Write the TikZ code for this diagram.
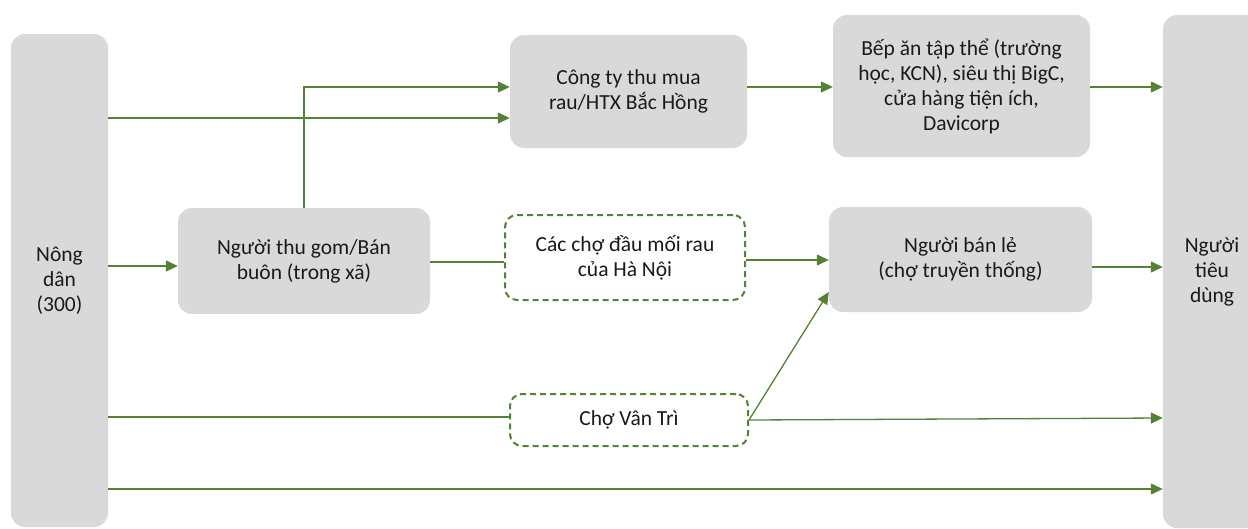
\documentclass[tikz,border=0pt]{standalone}
\usepackage{fontspec}
\setmainfont{Carlito}
\usetikzlibrary{arrows.meta}
\definecolor{flow}{HTML}{548235}
\definecolor{boxgray}{HTML}{D9D9D9}
\definecolor{ink}{HTML}{1A1A1A}
\tikzset{
  actor/.style={draw=none, fill=boxgray, rounded corners=14pt, inner sep=0pt,
    align=center, text=ink, font=\fontsize{21.5}{25}\selectfont},
  market/.style={draw=flow, fill=white, line width=2pt, dash pattern=on 6pt off 4pt,
    rounded corners=12pt, inner sep=0pt, align=center, text=ink,
    font=\fontsize{21.5}{25}\selectfont},
  link/.style={draw=flow, line width=1.3pt},
  arr/.style={link, -{Triangle[length=12pt,width=11pt]}}
}
\begin{document}
\begin{tikzpicture}[x=1pt, y=-1pt]
\useasboundingbox (0,0) rectangle (1248,528);

% actors along the chain
\node[actor, minimum width=97pt, minimum height=493pt] (nong) at (59.5,280.5) {Nông\\dân\\(300)};
\node[actor, minimum width=237pt, minimum height=113pt] (congty) at (628.5,91.5) {Công ty thu mua\\rau/HTX Bắc Hồng};
\node[actor, minimum width=257pt, minimum height=142pt] (bep) at (961.5,86) {Bếp ăn tập thể (trường\\học, KCN), siêu thị BigC,\\cửa hàng tiện ích,\\Davicorp};
\node[actor, minimum width=252pt, minimum height=106pt] (thugom) at (304,261) {Người thu gom/Bán\\buôn (trong xã)};
\node[actor, minimum width=263pt, minimum height=105pt] (banle) at (960.5,259.5) {Người bán lẻ\\(chợ truyền thống)};
\node[actor, minimum width=98pt, minimum height=513pt] (tieudung) at (1212,271.5) {Người\\tiêu\\dùng};

% wholesale markets
\node[market, minimum width=240pt, minimum height=85pt] (chodau) at (625,257.5) {Các chợ đầu mối rau\\của Hà Nội};
\node[market, minimum width=238pt, minimum height=52pt] (vantri) at (629,420) {Chợ Vân Trì};

% flows
\draw[arr] (nong.east |- 0,118) -- (congty.west |- 0,118);
\draw[arr] (thugom.north) |- (congty.west |- 0,87);
\draw[arr] (congty.east |- 0,87) -- (bep.west |- 0,87);
\draw[arr] (bep.east |- 0,87) -- (tieudung.west |- 0,87);
\draw[arr] (nong.east |- 0,266) -- (thugom.west |- 0,266);
\draw[link] (thugom.east |- 0,262) -- (chodau.west |- 0,262);
\draw[arr] (chodau.east |- 0,260) -- (banle.west |- 0,260);
\draw[arr] (banle.east |- 0,267) -- (tieudung.west |- 0,267);
\draw[link] (nong.east |- 0,417) -- (vantri.west |- 0,417);
\draw[arr] (vantri.east) -- (banle.west |- 0,292);
\draw[arr] (vantri.east) -- (tieudung.west |- 0,418);
\draw[arr] (nong.east |- 0,489) -- (tieudung.west |- 0,489);
\end{tikzpicture}
\end{document}
